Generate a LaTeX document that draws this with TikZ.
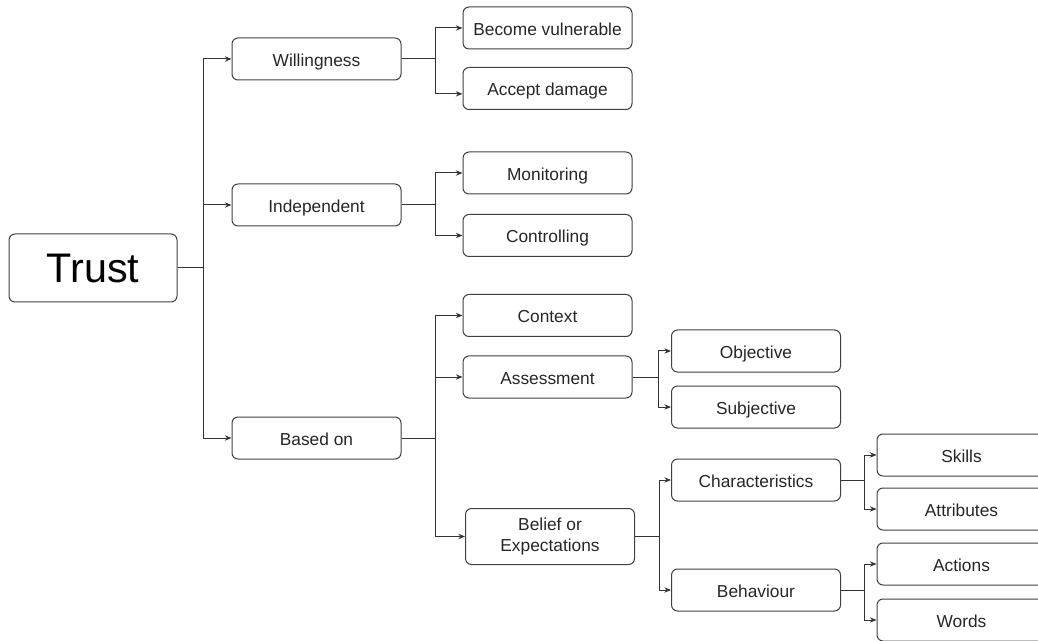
\documentclass[tikz,border=0pt]{standalone}
\usepackage{fontspec}
\setmainfont{Liberation Sans}
\usetikzlibrary{arrows.meta}
\begin{document}
\begin{tikzpicture}[x=0.75pt,y=-0.75pt,>={Stealth[length=5pt,width=4pt]},
    box/.style={draw=black!75,line width=0.75pt,rounded corners=4.5pt,
      minimum width=126.75pt,minimum height=31.5pt,inner sep=0pt,
      text height=12.4pt,text depth=1.5pt,
      align=center,font=\fontsize{13}{15.5}\selectfont,text=black!85},
    link/.style={->,draw=black!80,line width=0.75pt}]
  \useasboundingbox (0,0) rectangle (1038,641);
  \clip (0,0) rectangle (1038,641);
  \node[box,minimum width=126pt,minimum height=51pt,text height=,text depth=,font=\fontsize{31}{36}\selectfont,text=black] (trust) at (93,268) {Trust};
  \node[box] (will) at (316.5,59) {Willingness};
  \node[box] (indep) at (316.5,205) {Independent};
  \node[box] (based) at (316.5,438) {Based on};
  \node[box] (vuln) at (547.5,28) {Become vulnerable};
  \node[box] (acc) at (547.5,88.5) {Accept damage};
  \node[box] (mon) at (547.5,173) {Monitoring};
  \node[box] (ctrl) at (547.5,235.5) {Controlling};
  \node[box] (ctx) at (547.5,315.5) {Context};
  \node[box] (assess) at (547.5,377) {Assessment};
  \node[box,minimum height=42pt,text height=,text depth=] (belief) at (550,536.5) {Belief or\\Expectations};
  \node[box] (obj) at (756,351) {Objective};
  \node[box] (subj) at (756,407) {Subjective};
  \node[box] (chars) at (756,480) {Characteristics};
  \node[box] (behav) at (756,590) {Behaviour};
  \node[box] (skills) at (961.5,455) {Skills};
  \node[box] (attr) at (961.5,509) {Attributes};
  \node[box] (act) at (961.5,564) {Actions};
  \node[box] (words) at (961.5,620) {Words};
  \draw[link] (trust.east) -- ++(26,0) |- (will.west);
  \draw[link] (trust.east) -- ++(26,0) |- (indep.west);
  \draw[link] (trust.east) -- ++(26,0) |- (based.west);
  \draw[link] (will.east) -- ++(34,0) |- (vuln.west);
  \draw[link] (will.east) -- ++(34,0) |- ([yshift=-4pt]acc.west);
  \draw[link] (indep.east) -- ++(34,0) |- (mon.west);
  \draw[link] (indep.east) -- ++(34,0) |- (ctrl.west);
  \draw[link] (based.east) -- ++(34,0) |- (ctx.west);
  \draw[link] (based.east) -- ++(34,0) |- (assess.west);
  \draw[link] (based.east) -- ++(34,0) |- (belief.west);
  \draw[link] (assess.east) -- ++(26,0) |- (obj.west);
  \draw[link] (assess.east) -- ++(26,0) |- (subj.west);
  \draw[link] (belief.east) -- ++(24,0) |- (chars.west);
  \draw[link] (belief.east) -- ++(24,0) |- (behav.west);
  \draw[link] (chars.east) -- ++(23,0) |- (skills.west);
  \draw[link] (chars.east) -- ++(23,0) |- (attr.west);
  \draw[link] (behav.east) -- ++(23,0) |- (act.west);
  \draw[link] (behav.east) -- ++(23,0) |- (words.west);
\end{tikzpicture}
\end{document}
